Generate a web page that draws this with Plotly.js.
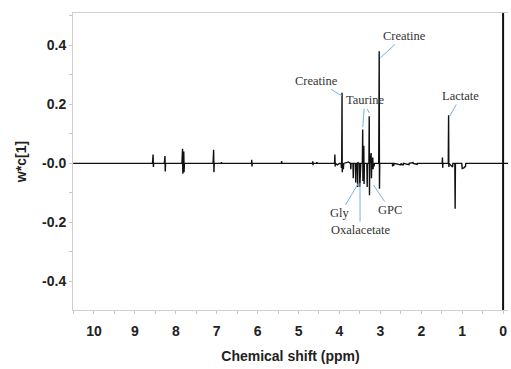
<!DOCTYPE html>
<html>
<head>
<meta charset="utf-8">
<script src="https://cdn.plot.ly/plotly-3.0.1.min.js"></script>
<style>html,body{margin:0;padding:0;background:#fff;}#chart{width:511px;height:369px;}</style>
</head>
<body>
<div id="chart"></div>
<script>
// Loading spectrum w*c[1] vs chemical shift (ppm)
const ppm = [10.51, 8.57, 8.555, 8.548, 8.54, 8.28, 8.265, 8.258, 8.25,
  7.85, 7.835, 7.828, 7.81, 7.805, 7.798, 7.79, 7.09, 7.075, 7.068, 7.06,
  6.89, 6.885, 6.88, 6.15, 6.145, 6.138, 6.13, 5.42, 5.412, 5.405,
  4.66, 4.652, 4.646, 4.64, 4.56, 4.552, 4.545, 4.12, 4.112, 4.105, 4.1, 4.05, 4.0,
  3.96, 3.952, 3.945, 3.937, 3.932, 3.925, 3.905, 3.895, 3.78, 3.73, 3.722, 3.715,
  3.67, 3.662, 3.655, 3.61, 3.602, 3.595, 3.565, 3.555, 3.548, 3.54,
  3.51, 3.502, 3.496, 3.485, 3.478, 3.44, 3.432, 3.426, 3.42, 3.405, 3.398, 3.39,
  3.33, 3.322, 3.315, 3.28, 3.272, 3.266, 3.26, 3.225, 3.218, 3.21, 3.185, 3.178, 3.17,
  3.152, 3.145, 3.04, 3.028, 3.022, 3.015, 2.705, 2.7, 2.695, 2.672, 2.665,
  2.5, 2.495, 2.442, 2.435, 2.3, 2.295, 2.2, 2.195, 2.1, 2.095,
  1.49, 1.482, 1.476, 1.47, 1.34, 1.332, 1.326, 1.32, 1.235, 1.228,
  1.18, 1.172, 1.165, 1.01, 1.0, 0.96, 0.92, 0.91, -0.12];
const wc1 = [0, 0, 0.03, -0.012, 0, 0, 0.025, -0.027, 0,
  0, 0.05, -0.035, 0, 0.04, -0.03, 0, 0, 0.046, -0.03, 0,
  0, 0.004, 0, 0, 0.012, -0.01, 0, 0, 0.008, 0,
  0, 0.007, -0.006, 0, 0, 0.004, 0, 0, 0.03, -0.01, 0, -0.005, 0,
  0, -0.015, 0, 0.24, -0.03, 0, -0.02, 0, 0.005, 0, -0.02, 0,
  0, -0.05, 0, 0, -0.065, 0, 0, -0.08, 0.005, 0,
  0, -0.08, 0, -0.07, 0, 0, 0.115, -0.06, 0, 0.06, -0.07, 0,
  0, -0.08, 0, 0, 0.16, -0.108, 0, 0.035, -0.05, 0, 0.02, -0.02, 0,
  -0.01, 0, 0, 0.38, -0.086, 0, 0, -0.01, 0, -0.008, 0,
  -0.005, 0, -0.006, 0, -0.004, 0, 0.003, 0, -0.003, 0,
  0, 0.02, -0.015, 0, 0, 0.163, -0.012, 0, -0.012, 0,
  0, -0.154, 0, 0, -0.017, -0.015, -0.01, 0, 0];
// reference line at 0 ppm
const refPpm = [0, 0];
const refW = [-0.6, 0.6];

const yTickVals = [-0.4, -0.2, 0, 0.2, 0.4];
const yTickText = ['-0.4', '-0.2', '-0.0', '0.2', '0.4'];
const xTickVals = [10, 9, 8, 7, 6, 5, 4, 3, 2, 1, 0];
const xTickText = ['10', '9', '8', '7', '6', '5', '4', '3', '2', '1', '0'];

// labels: [text, ppm tip, value tip, dx px, dy px]
const labels = [
  ['Creatine', 3.0, 0.358, 24, -22],
  ['Creatine', 3.94, 0.229, -25, -15],
  ['Taurine', 3.43, 0.123, 2, -27],
  ['Lactate', 1.30, 0.161, 11, -20],
  ['Gly', 3.535, -0.067, -18, 30],
  ['Oxalacetate', 3.497, -0.067, 0, 47],
  ['GPC', 3.17, -0.073, 17, 25]
];
const extraArrows = [[3.27, 0.171, -3, -6]];

const labelFont = {family: '"Liberation Serif", "Times New Roman", serif', size: 12.5, color: '#333'};
const arrowColor = '#72b3e3';
const annotations = labels.map(l => ({
  x: l[1], y: l[2], ax: l[3], ay: l[4], xref: 'x', yref: 'y',
  text: l[0], showarrow: true, arrowhead: 0, arrowwidth: 1, arrowcolor: arrowColor,
  standoff: 0, font: labelFont
})).concat(extraArrows.map(a => ({
  x: a[0], y: a[1], ax: a[2], ay: a[3], xref: 'x', yref: 'y',
  text: ' ', showarrow: true, arrowhead: 0, arrowwidth: 1, arrowcolor: arrowColor,
  standoff: 0, font: {size: 1}
})));

const tickFont = {family: '"Liberation Sans", Arial, sans-serif', size: 14, color: '#222', weight: 'bold'};
const titleFont = {family: '"Liberation Sans", Arial, sans-serif', size: 14, color: '#222', weight: 'bold'};

const data = [
  {x: ppm, y: wc1, type: 'scatter', mode: 'lines', line: {color: '#111', width: 1.4}, hoverinfo: 'none'},
  {x: refPpm, y: refW, type: 'scatter', mode: 'lines', line: {color: '#111', width: 2}, hoverinfo: 'none'}
];

const layout = {
  width: 511, height: 369,
  margin: {l: 73, r: 3, t: 13, b: 59},
  paper_bgcolor: '#fff', plot_bgcolor: '#fff',
  showlegend: false,
  xaxis: {
    range: [10.513, -0.12], showgrid: false, zeroline: false,
    showline: true, linecolor: '#cfcfcf', linewidth: 1, mirror: true,
    tickvals: xTickVals, ticktext: xTickText,
    ticks: 'outside', ticklen: 3, tickcolor: '#c8c8c8',
    minor: {dtick: 0.5, ticks: 'outside', ticklen: 3, tickcolor: '#c8c8c8'},
    tickfont: tickFont, ticklabelstandoff: 5,
    title: {text: 'Chemical shift (ppm)', font: titleFont, standoff: 13}
  },
  yaxis: {
    range: [-0.497, 0.51], showgrid: false, zeroline: false,
    showline: true, linecolor: '#cfcfcf', linewidth: 1,
    tickvals: yTickVals, ticktext: yTickText,
    ticks: 'outside', ticklen: 3, tickcolor: '#c8c8c8',
    minor: {dtick: 0.1, tick0: 0, ticks: 'outside', ticklen: 3, tickcolor: '#c8c8c8'},
    tickfont: tickFont,
    title: {text: 'w*c[1]', font: titleFont, standoff: 12}
  },
  annotations: annotations
};

Plotly.newPlot('chart', data, layout, {staticPlot: true, displayModeBar: false});
</script>
</body>
</html>
